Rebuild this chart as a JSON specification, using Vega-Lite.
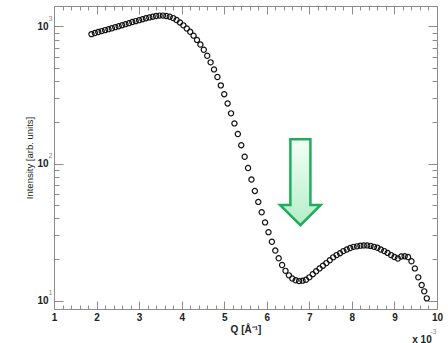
{
  "$schema": "https://vega.github.io/schema/vega-lite/v6.json",
  "width": 383,
  "height": 303,
  "autosize": {"type": "none"},
  "padding": {"left": 54, "top": 6, "right": 11, "bottom": 34},
  "background": "white",
  "config": {
    "view": {"stroke": "#8c8c8c", "strokeWidth": 1},
    "axis": {"grid": false, "domain": false, "labelFont": "Liberation Sans", "titleFont": "Liberation Sans", "labelOverlap": false, "labelFlush": false}
  },
  "datasets": {
    "saxs": [
      {"Q": 1.88, "I": 877}, {"Q": 1.96, "I": 893}, {"Q": 2.04, "I": 908}, {"Q": 2.12, "I": 923},
      {"Q": 2.20, "I": 938}, {"Q": 2.28, "I": 953}, {"Q": 2.36, "I": 968}, {"Q": 2.44, "I": 986},
      {"Q": 2.52, "I": 1002}, {"Q": 2.60, "I": 1019}, {"Q": 2.68, "I": 1037}, {"Q": 2.76, "I": 1054},
      {"Q": 2.84, "I": 1074}, {"Q": 2.92, "I": 1091}, {"Q": 3.00, "I": 1109}, {"Q": 3.08, "I": 1127},
      {"Q": 3.16, "I": 1146}, {"Q": 3.24, "I": 1161}, {"Q": 3.32, "I": 1175}, {"Q": 3.40, "I": 1189},
      {"Q": 3.48, "I": 1197}, {"Q": 3.56, "I": 1197}, {"Q": 3.64, "I": 1189}, {"Q": 3.72, "I": 1175},
      {"Q": 3.80, "I": 1148}, {"Q": 3.88, "I": 1112}, {"Q": 3.96, "I": 1067}, {"Q": 4.04, "I": 1016},
      {"Q": 4.12, "I": 964}, {"Q": 4.20, "I": 912}, {"Q": 4.28, "I": 855}, {"Q": 4.36, "I": 796},
      {"Q": 4.44, "I": 736}, {"Q": 4.52, "I": 675}, {"Q": 4.60, "I": 610}, {"Q": 4.68, "I": 546},
      {"Q": 4.76, "I": 485}, {"Q": 4.84, "I": 427}, {"Q": 4.92, "I": 371}, {"Q": 5.00, "I": 320},
      {"Q": 5.08, "I": 274}, {"Q": 5.16, "I": 232}, {"Q": 5.24, "I": 196}, {"Q": 5.32, "I": 164},
      {"Q": 5.40, "I": 136}, {"Q": 5.48, "I": 112}, {"Q": 5.56, "I": 92.7}, {"Q": 5.64, "I": 76.4},
      {"Q": 5.72, "I": 63.1}, {"Q": 5.80, "I": 52.5}, {"Q": 5.88, "I": 44.1}, {"Q": 5.96, "I": 37.2},
      {"Q": 6.04, "I": 31.6}, {"Q": 6.12, "I": 26.9}, {"Q": 6.20, "I": 23.2}, {"Q": 6.28, "I": 20.4},
      {"Q": 6.36, "I": 18.2}, {"Q": 6.44, "I": 16.5}, {"Q": 6.52, "I": 15.3}, {"Q": 6.60, "I": 14.5},
      {"Q": 6.68, "I": 14.1}, {"Q": 6.76, "I": 13.9}, {"Q": 6.84, "I": 14.0}, {"Q": 6.92, "I": 14.2},
      {"Q": 7.00, "I": 14.8}, {"Q": 7.08, "I": 15.6}, {"Q": 7.16, "I": 16.4}, {"Q": 7.24, "I": 17.2},
      {"Q": 7.32, "I": 18.0}, {"Q": 7.40, "I": 18.8}, {"Q": 7.48, "I": 19.7}, {"Q": 7.56, "I": 20.7},
      {"Q": 7.64, "I": 21.5}, {"Q": 7.72, "I": 22.2}, {"Q": 7.80, "I": 23.0}, {"Q": 7.88, "I": 23.6},
      {"Q": 7.96, "I": 24.2}, {"Q": 8.04, "I": 24.7}, {"Q": 8.12, "I": 24.9}, {"Q": 8.20, "I": 25.2},
      {"Q": 8.28, "I": 25.3}, {"Q": 8.36, "I": 25.3}, {"Q": 8.44, "I": 25.1}, {"Q": 8.52, "I": 24.7},
      {"Q": 8.60, "I": 24.3}, {"Q": 8.68, "I": 23.6}, {"Q": 8.76, "I": 23.0}, {"Q": 8.84, "I": 22.3},
      {"Q": 8.92, "I": 21.5}, {"Q": 9.00, "I": 20.8}, {"Q": 9.08, "I": 20.3}, {"Q": 9.16, "I": 21.0},
      {"Q": 9.24, "I": 21.1}, {"Q": 9.32, "I": 20.8}, {"Q": 9.40, "I": 19.4}, {"Q": 9.48, "I": 17.2},
      {"Q": 9.56, "I": 14.8}, {"Q": 9.64, "I": 13.0}, {"Q": 9.70, "I": 11.7}, {"Q": 9.76, "I": 10.4}
    ],
    "arrow": [{"Q": 6.79, "I": 73.1}]
  },
  "layer": [
    {
      "data": {"name": "saxs"},
      "mark": {"type": "point", "shape": "circle", "filled": false, "stroke": "#111111", "strokeWidth": 1.2, "size": 27, "opacity": 1},
      "encoding": {
        "x": {"field": "Q", "type": "quantitative",
          "scale": {"domain": [1, 10], "nice": false, "zero": false},
          "axis": {"orient": "bottom", "ticks": false, "values": [1,2,3,4,5,6,7,8,9,10], "format": "d",
            "labelFontSize": 10, "labelFontWeight": "bold", "labelColor": "#222222", "labelPadding": 3,
            "title": "Q [Å⁻¹]", "titleFontSize": 10, "titleFontWeight": "bold", "titleColor": "#222222", "titlePadding": 2}},
        "y": {"field": "I", "type": "quantitative",
          "scale": {"type": "log", "domain": [8.7, 1406], "nice": false},
          "axis": {"orient": "left", "ticks": false, "values": [10, 100, 1000], "labelExpr": "'10'",
            "labelFontSize": 10, "labelFontWeight": "bold", "labelColor": "#222222", "labelPadding": 6,
            "title": "Intensity [arb. units]", "titleFontSize": 9.5, "titleFontWeight": "normal", "titleColor": "#222222", "titlePadding": 2}}
      }
    },
    {
      "data": {"name": "arrow"},
      "mark": {"type": "point", "shape": "M -0.233 -1 L 0.233 -1 L 0.233 0.53 L 0.473 0.53 L 0 1 L -0.473 0.53 L -0.233 0.53 Z",
        "size": 7396, "filled": true, "opacity": 1, "stroke": "#1fae5b", "strokeWidth": 2.5, "strokeJoin": "miter",
        "fill": {"gradient": "linear", "x1": 0, "y1": 0, "x2": 0, "y2": 1, "stops": [{"offset": 0, "color": "#f5fef8"}, {"offset": 1, "color": "#b2efc7"}]}},
      "encoding": {
        "x": {"field": "Q", "type": "quantitative",
          "scale": {"domain": [1, 10], "nice": false, "zero": false},
          "axis": {"orient": "bottom", "labels": false, "title": null, "domain": false, "tickColor": "#8c8c8c", "tickWidth": 1,
            "values": [1,1.2,1.4,1.6,1.8,2,2.2,2.4,2.6,2.8,3,3.2,3.4,3.6,3.8,4,4.2,4.4,4.6,4.8,5,5.2,5.4,5.6,5.8,6,6.2,6.4,6.6,6.8,7,7.2,7.4,7.6,7.8,8,8.2,8.4,8.6,8.8,9,9.2,9.4,9.6,9.8,10],
            "tickSize": {"condition": {"test": "abs(datum.value - round(datum.value)) < 0.001", "value": -8}, "value": -4}}},
        "y": {"field": "I", "type": "quantitative",
          "scale": {"type": "log", "domain": [8.7, 1406], "nice": false},
          "axis": {"orient": "left", "labels": false, "title": null, "domain": false, "tickColor": "#8c8c8c", "tickWidth": 1,
            "values": [10,20,30,40,50,60,70,80,90,100,200,300,400,500,600,700,800,900,1000],
            "tickSize": {"condition": {"test": "datum.value === 10 || datum.value === 100 || datum.value === 1000", "value": -9}, "value": -5}}}
      }
    },
    {
      "data": {"name": "arrow"},
      "mark": {"type": "point", "opacity": 0},
      "encoding": {
        "x": {"field": "Q", "type": "quantitative",
          "scale": {"domain": [1, 10], "nice": false, "zero": false},
          "axis": {"orient": "top", "labels": false, "title": null, "domain": false, "tickColor": "#8c8c8c", "tickWidth": 1,
            "values": [1,1.2,1.4,1.6,1.8,2,2.2,2.4,2.6,2.8,3,3.2,3.4,3.6,3.8,4,4.2,4.4,4.6,4.8,5,5.2,5.4,5.6,5.8,6,6.2,6.4,6.6,6.8,7,7.2,7.4,7.6,7.8,8,8.2,8.4,8.6,8.8,9,9.2,9.4,9.6,9.8,10],
            "tickSize": {"condition": {"test": "abs(datum.value - round(datum.value)) < 0.001", "value": -8}, "value": -4}}},
        "y": {"field": "I", "type": "quantitative",
          "scale": {"type": "log", "domain": [8.7, 1406], "nice": false},
          "axis": {"orient": "right", "labels": false, "title": null, "domain": false, "tickColor": "#8c8c8c", "tickWidth": 1,
            "values": [10,20,30,40,50,60,70,80,90,100,200,300,400,500,600,700,800,900,1000],
            "tickSize": {"condition": {"test": "datum.value === 10 || datum.value === 100 || datum.value === 1000", "value": -9}, "value": -5}}}
      }
    },
    {
      "data": {"name": "arrow"},
      "mark": {"type": "point", "opacity": 0},
      "encoding": {
        "x": {"field": "Q", "type": "quantitative",
          "scale": {"domain": [1, 10], "nice": false, "zero": false},
          "axis": {"orient": "bottom", "ticks": false, "domain": false, "values": [9.9], "labelExpr": "'-3'",
            "labelFontSize": 7, "labelColor": "#888888", "labelPadding": 18,
            "title": "x 10", "titleFontSize": 10, "titleFontWeight": "bold", "titleColor": "#222222",
            "titleX": 367.5, "titleY": 30, "titleBaseline": "middle", "titleAlign": "center", "titleAnchor": null}},
        "y": {"field": "I", "type": "quantitative",
          "scale": {"type": "log", "domain": [8.7, 1406], "nice": false},
          "axis": {"orient": "left", "ticks": false, "domain": false, "values": [10, 100, 1000],
            "labelExpr": "datum.value === 1000 ? '3' : (datum.value === 100 ? '2' : '1')",
            "labelFontSize": 7, "labelColor": "#888888", "labelPadding": 2, "labelOffset": -8, "title": null}}
      }
    }
  ],
  "resolve": {"axis": {"x": "independent", "y": "independent"}}
}
